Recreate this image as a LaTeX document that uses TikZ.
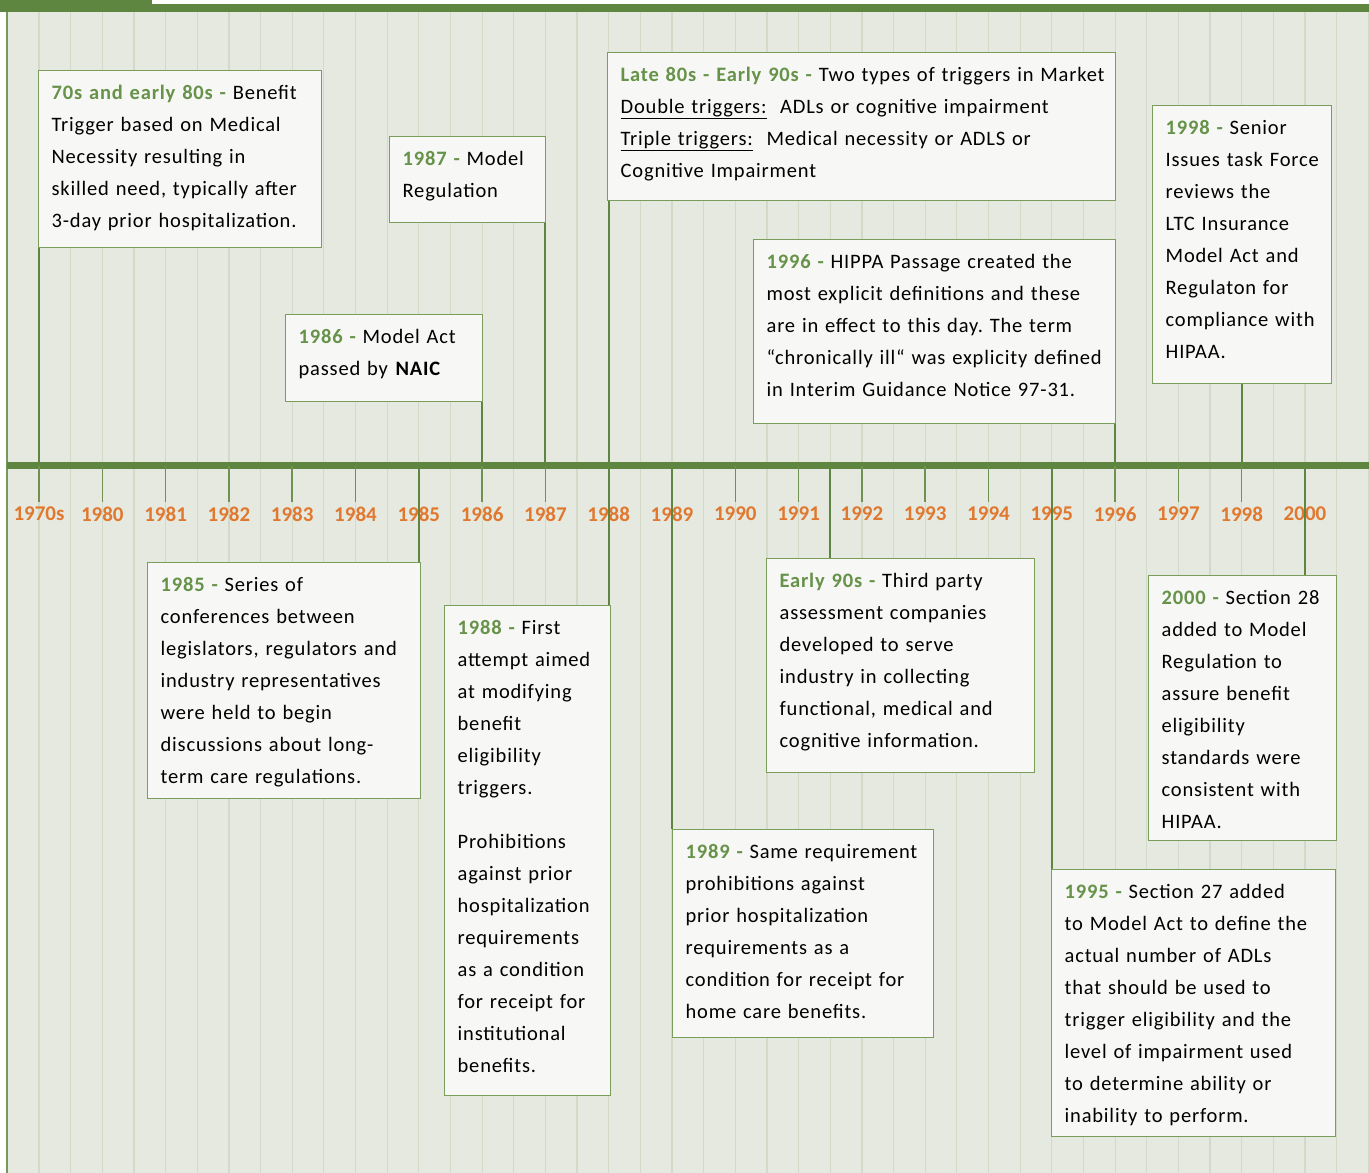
\documentclass[tikz,border=0pt]{standalone}
\usepackage{fontspec}
\usetikzlibrary{calc}
\newfontfamily\boxfont{Carlito}[LetterSpace=4]
\newfontfamily\yearfont{Carlito}
\definecolor{bargreen}{HTML}{5F8640}
\definecolor{labelgreen}{HTML}{669249}
\definecolor{boxline}{HTML}{7A9D5B}
\definecolor{boxfill}{HTML}{F7F7F5}
\definecolor{panel}{HTML}{E6E9E0}
\definecolor{gridln}{HTML}{D3DBC8}
\definecolor{yearorange}{HTML}{E0782F}
\newcommand\evdate[1]{{\color{labelgreen}\bfseries #1 -}}
\newcommand\evlines[1]{\begin{tabular}[t]{@{}l@{}}#1\end{tabular}}
\frenchspacing

\begin{document}
\begin{tikzpicture}[x=1pt,y=-1pt,
  evbox/.style={draw=boxline,line width=1.3pt,fill=boxfill,anchor=north west,inner xsep=13pt,inner ysep=0pt,
    text height=29pt,font=\boxfont\fontsize{20.5}{32}\selectfont},
  conn/.style={draw=bargreen,line width=2pt},
  tickln/.style={draw=bargreen!90!white,line width=1.5pt},
  yearlbl/.style={font=\yearfont\bfseries\fontsize{21}{21}\selectfont,text=yearorange,inner sep=0pt}]
\useasboundingbox (0,0) rectangle (1369,1173);
\fill[panel] (7,12) rectangle (1369,1173);
\foreach \g in {0,...,42}
  \draw[gridln,line width=1.2pt] ({39+\g*31.65},12) -- ({39+\g*31.65},1173);
\fill[bargreen] (0,0) rectangle (152,12);
\fill[bargreen] (0,4) rectangle (1369,12);
\draw[bargreen!85!white,line width=2pt] (6.5,12) -- (6.5,1173);
\coordinate (axisL) at (7,465.5); \coordinate (axisR) at (1369,465.5);
\draw[bargreen,line width=7pt] (axisL) -- (axisR);
\foreach \yr [count=\i from 0] in {1970s,1980,1981,1982,1983,1984,1985,1986,1987,1988,1989,1990,1991,1992,1993,1994,1995,1996,1997,1998,2000}{
  \coordinate (y\yr) at ({39+\i*63.3},465.5);
  \draw[tickln] (y\yr) -- ++(0,36.5);
  \node[yearlbl] (l\yr) at ({39+\i*63.3},514) {\yr};
}
\coordinate (y9192) at ($(y1991)!.5!(y1992)$);

\node[evbox,text width=257pt,text depth=148pt] (b70s) at (38,70)
  {\evlines{\evdate{70s and early 80s} Benefit\\Trigger based on Medical\\Necessity resulting in\\skilled need, typically after\\3-day prior hospitalization.}};
\node[evbox,text width=130pt,text depth=57pt] (b1987) at (389,136)
  {\evlines{\evdate{1987} Model\\Regulation}};
\node[evbox,text width=171pt,text depth=58pt] (b1986) at (285,314)
  {\evlines{\evdate{1986} Model Act\\passed by \textbf{NAIC}}};
\node[evbox,text width=482pt,text depth=119pt] (bL80s) at (607,52)
  {\evlines{\evdate{Late 80s - Early 90s} Two types of triggers in Market\\\underline{Double triggers:}\ \ ADLs or cognitive impairment\\\underline{Triple triggers:}\ \ Medical necessity or ADLS or\\Cognitive Impairment}};
\node[evbox,text width=336pt,text depth=155pt] (b1996) at (753,239)
  {\evlines{\evdate{1996} HIPPA Passage created the\\most explicit definitions and these\\are in effect to this day. The term\\“chronically ill“ was explicity defined\\in Interim Guidance Notice 97-31.}};
\node[evbox,text width=153pt,text depth=249pt] (b1998) at (1152,105)
  {\evlines{\evdate{1998} Senior\\Issues task Force\\reviews the\\LTC Insurance\\Model Act and\\Regulaton for\\compliance with\\HIPAA.}};
\node[evbox,text width=247pt,text depth=207pt] (b1985) at (147,562)
  {\evlines{\evdate{1985} Series of\\conferences between\\legislators, regulators and\\industry representatives\\were held to begin\\discussions about long-\\term care regulations.}};
\node[evbox,text width=140pt,text depth=461pt] (b1988) at (444,605)
  {\evlines{\evdate{1988} First\\attempt aimed\\at modifying\\benefit\\eligibility\\triggers.\\[22pt]Prohibitions\\against prior\\hospitalization\\requirements\\as a condition\\for receipt for\\institutional\\benefits.}};
\node[evbox,text width=242pt,text depth=185pt] (bE90s) at (766,558)
  {\evlines{\evdate{Early 90s} Third party\\assessment companies\\developed to serve\\industry in collecting\\functional, medical and\\cognitive information.}};
\node[evbox,text width=235pt,text depth=179pt] (b1989) at (672,829)
  {\evlines{\evdate{1989} Same requirement\\prohibitions against\\prior hospitalization\\requirements as a\\condition for receipt for\\home care benefits.}};
\node[evbox,text width=162pt,text depth=236pt] (b2000) at (1148,575)
  {\evlines{\evdate{2000} Section 28\\added to Model\\Regulation to\\assure benefit\\eligibility\\standards were\\consistent with\\HIPAA.}};
\node[evbox,text width=258pt,text depth=238pt] (b1995) at (1051,869)
  {\evlines{\evdate{1995} Section 27 added\\to Model Act to define the\\actual number of ADLs\\that should be used to\\trigger eligibility and the\\level of impairment used\\to determine ability or\\inability to perform.}};

\draw[conn] (y1970s) -- (y1970s |- b70s.south);
\draw[conn] (y1986) -- (y1986 |- b1986.south);
\draw[conn] (y1987) -- (y1987 |- b1987.south);
\draw[conn] (y1988) -- (y1988 |- bL80s.south);
\draw[conn] (y1996) -- (y1996 |- b1996.south);
\draw[conn] (y1998) -- (y1998 |- b1998.south);
\draw[conn] (y1985) -- (y1985 |- b1985.north);
\draw[conn] (y1988) -- (y1988 |- b1988.north);
\draw[conn] (y9192) -- (y9192 |- bE90s.north);
\draw[conn] (y1989) -- (y1989 |- b1989.north);
\draw[conn] (y1995) -- (y1995 |- b1995.north);
\draw[conn] (y2000) -- (y2000 |- b2000.north);
\end{tikzpicture}
\end{document}
